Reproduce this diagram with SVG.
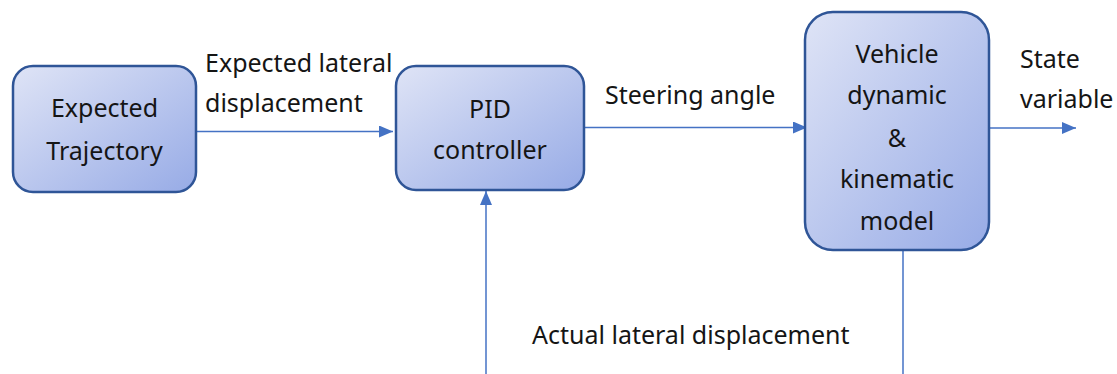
<svg xmlns="http://www.w3.org/2000/svg" width="1117" height="374" viewBox="0 0 1117 374">
<defs>
<linearGradient id="g" x1="0" y1="0" x2="1" y2="1">
<stop offset="0" stop-color="#dfe4f6"/>
<stop offset="1" stop-color="#97abe6"/>
</linearGradient>
<marker id="arrb" viewBox="0 0 14 12" refX="14" refY="6" markerWidth="14" markerHeight="12" markerUnits="userSpaceOnUse" orient="auto">
<path d="M0,0 L14,6 L0,12 z" fill="#4472c4"/>
</marker>
</defs>
<style>
.box{fill:url(#g);stroke:#2f5597;stroke-width:2.5}
.t{font-family:"Noto Sans","Open Sans",sans-serif;font-size:25px;fill:#151515}
.c{text-anchor:middle}
.ln{stroke:#4472c4;stroke-width:1.5;fill:none}
</style>
<g id="connectors">
<line class="ln" x1="196" y1="131.5" x2="393" y2="131.5" marker-end="url(#arrb)"/>
<line class="ln" x1="584" y1="127.5" x2="807" y2="127.5" marker-end="url(#arrb)"/>
<line class="ln" x1="989" y1="128" x2="1076" y2="128" marker-end="url(#arrb)"/>
<line class="ln" x1="486" y1="374" x2="486" y2="191" marker-end="url(#arrb)"/>
<line class="ln" x1="903" y1="251" x2="903" y2="374"/>
</g>
<g id="expected-trajectory">
<rect class="box" x="13" y="66" width="183" height="126" rx="20"/>
<text class="t c" x="104.5" y="117">Expected</text>
<text class="t c" x="104.5" y="160">Trajectory</text>
</g>
<g id="pid-controller">
<rect class="box" x="396" y="66" width="188" height="124" rx="20"/>
<text class="t c" x="490" y="118">PID</text>
<text class="t c" x="490" y="159">controller</text>
</g>
<g id="vehicle-model">
<rect class="box" x="805" y="12" width="184" height="238" rx="28"/>
<text class="t c" x="897" y="63">Vehicle</text>
<text class="t c" x="897" y="104">dynamic</text>
<text class="t c" x="897" y="147">&amp;</text>
<text class="t c" x="897" y="188">kinematic</text>
<text class="t c" x="897" y="230">model</text>
</g>
<g id="labels">
<text class="t" x="205" y="72">Expected lateral</text>
<text class="t" x="205" y="112">displacement</text>
<text class="t" x="605" y="104">Steering angle</text>
<text class="t" x="1020" y="68">State</text>
<text class="t" x="1020" y="108">variable</text>
<text class="t" x="532" y="344">Actual lateral displacement</text>
</g>
</svg>
